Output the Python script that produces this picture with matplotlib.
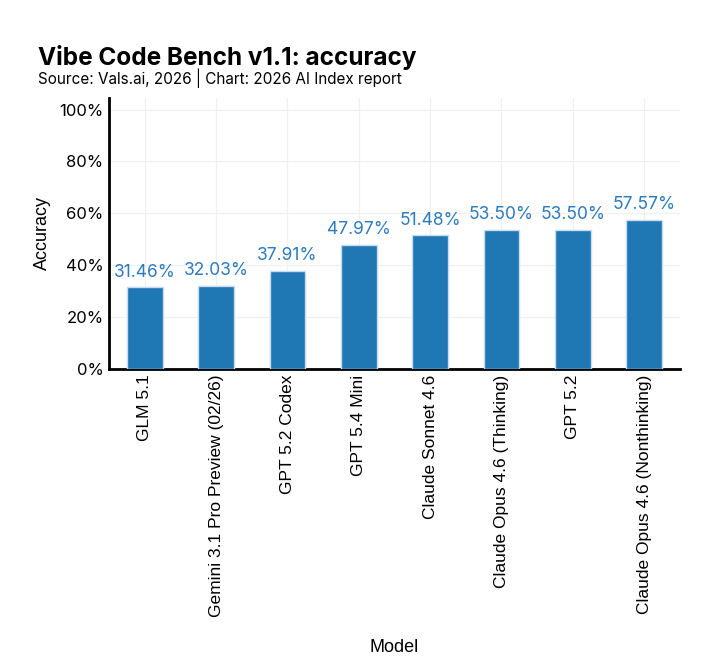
import matplotlib
matplotlib.use("Agg")
import matplotlib.pyplot as plt
from matplotlib.ticker import PercentFormatter

models = ["GLM 5.1", "Gemini 3.1 Pro Preview (02/26)", "GPT 5.2 Codex", "GPT 5.4 Mini",
          "Claude Sonnet 4.6", "Claude Opus 4.6 (Thinking)", "GPT 5.2",
          "Claude Opus 4.6 (Nonthinking)"]
accuracy = [31.46, 32.03, 37.91, 47.97, 51.48, 53.50, 53.50, 57.57]
yticks = [0, 20, 40, 60, 80, 100]

geo = ["Inter", "DejaVu Sans"]
helv = ["Liberation Sans", "DejaVu Sans"]

fig = plt.figure(figsize=(7.1, 6.7), dpi=100)
ax = fig.add_axes([0.1535, 0.449, 0.804, 0.405])

x = range(len(models))
ax.bar(x, accuracy, width=0.5, color="#1f77b4", edgecolor="#c6dbef", linewidth=1, zorder=3)
for i, v in zip(x, accuracy):
    ax.annotate(f"{v:.2f}%", (i, v), xytext=(0, 5), textcoords="offset points",
                ha="center", va="bottom", color="#2b7bbf", fontsize=12.5, family=geo)

ax.set_xlim(-0.5, 7.5)
ax.set_ylim(0, 104.5)
ax.set_yticks(yticks)
ax.yaxis.set_major_formatter(PercentFormatter(decimals=0))
ax.set_xticks(list(x))
ax.set_xticklabels(models, rotation=90, family=helv, fontsize=12.5)
for lab in ax.get_yticklabels():
    lab.set_family(geo)
    lab.set_fontsize(12)
ax.tick_params(length=0, pad=4)
ax.grid(True, color="#f0f0f0", linewidth=0.9, zorder=0)

for s in ["top", "right"]:
    ax.spines[s].set_visible(False)
for s in ["left", "bottom"]:
    ax.spines[s].set_linewidth(2)
    ax.spines[s].set_color("black")

ax.set_xlabel("Model", family=helv, fontsize=13, labelpad=16)
ax.set_ylabel("Accuracy", family=helv, fontsize=13, labelpad=6)

fig.text(0.053, 0.903, "Vibe Code Bench v1.1: accuracy", fontsize=17.5, fontweight="bold",
         family=geo, ha="left", va="baseline")
fig.text(0.053, 0.875, "Source: Vals.ai, 2026 | Chart: 2026 AI Index report", fontsize=11,
         family=geo, ha="left", va="baseline")

fig.savefig("out.png", dpi=100, facecolor="white")
